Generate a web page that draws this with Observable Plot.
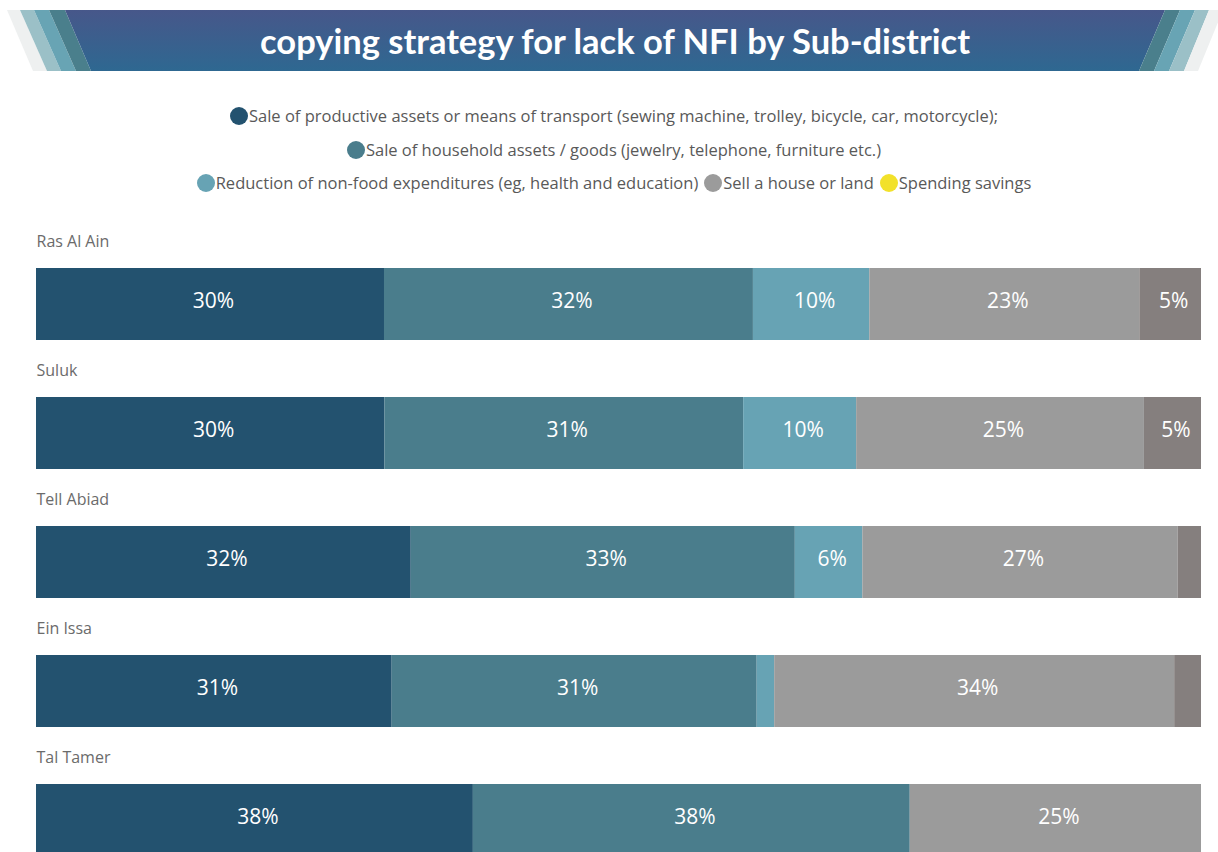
<!DOCTYPE html>
<html>
<head>
<meta charset="utf-8">
<script src="https://cdn.jsdelivr.net/npm/d3@7"></script>
<script src="https://cdn.jsdelivr.net/npm/@observablehq/plot@0.6"></script>
<style>
  html, body { margin: 0; padding: 0; background: #fff; overflow: hidden; width: 1218px; height: 852px; }
  #banner { position: absolute; left: 0; top: 0; }
  #legend { position: absolute; left: 10px; top: 101px; width: 1208px; font-family: "Open Sans", sans-serif; font-size: 16.5px; color: #595959; text-align: center; }
  #legend .row { height: 33.5px; line-height: 30px; white-space: nowrap; }
  #legend .item { display: inline-flex; align-items: center; margin: 0 3px; }
  #legend .dot { display: inline-block; width: 18px; height: 18px; border-radius: 50%; margin-right: 1px; }
  #chart { position: absolute; left: 0; top: 200px; }
</style>
</head>
<body>
<svg id="banner" width="1218" height="80"></svg>
<div id="legend"></div>
<div id="chart"></div>
<script>
const titleText = "copying strategy for lack of NFI by Sub-district";
const sites = ["Ras Al Ain", "Suluk", "Tell Abiad", "Ein Issa", "Tal Tamer"];
const strategies = [
  "Sale of productive assets or means of transport (sewing machine, trolley, bicycle, car, motorcycle);",
  "Sale of household assets / goods (jewelry, telephone, furniture etc.)",
  "Reduction of non-food expenditures (eg, health and education)",
  "Sell a house or land",
  "Spending savings"
];
const productive = [29.9, 29.9, 32.2, 30.5, 37.5];
const household  = [31.7, 30.8, 33.0, 31.3, 37.5];
const reduction  = [10.0, 9.7, 5.8, 1.5, 0];
const sellHouse  = [23.2, 24.7, 27.1, 34.3, 25.0];
const savings    = [5.3, 4.9, 2.0, 2.3, 0];
const barColors    = ["#23526f", "#4a7d8c", "#67a3b4", "#9b9b9b", "#857f7e"];
const legendColors = ["#23526f", "#4a7d8c", "#67a3b4", "#9b9b9b", "#f2e12a"];
const legendRows = [[0], [1], [2, 3, 4]];

// Banner (decoration)
const banner = document.getElementById("banner");
banner.innerHTML = `
<defs><linearGradient id="bg" x1="0" y1="0" x2="0" y2="1">
<stop offset="0" stop-color="#47578a"/><stop offset="1" stop-color="#2e6891"/></linearGradient></defs>
<polygon points="7,10 20,10 47,71 33,71" fill="#eef0f0"/>
<polygon points="20,10 34,10 61,71 47,71" fill="#9bc0c7"/>
<polygon points="34,10 49,10 76,71 61,71" fill="#68a4b4"/>
<polygon points="49,10 65,10 91,71 76,71" fill="#4a7f8c"/>
<polygon points="65,10 1165,10 1139,71 91,71" fill="url(#bg)"/>
<polygon points="1165,10 1180,10 1154,71 1139,71" fill="#4a7f8c"/>
<polygon points="1180,10 1195,10 1169,71 1154,71" fill="#68a4b4"/>
<polygon points="1195,10 1209,10 1184,71 1169,71" fill="#9bc0c7"/>
<polygon points="1209,10 1223,10 1198,71 1184,71" fill="#eef0f0"/>
<text x="615" y="40" text-anchor="middle" dominant-baseline="central" fill="#fff" font-family="Lato, sans-serif" font-weight="bold" font-size="34.5">${titleText}</text>`;

// Legend
const legend = document.getElementById("legend");
legendRows.forEach(r => {
  const row = document.createElement("div");
  row.className = "row";
  r.forEach(i => {
    const it = document.createElement("span");
    it.className = "item";
    it.innerHTML = `<span class="dot" style="background:${legendColors[i]}"></span>${strategies[i]}`;
    row.appendChild(it);
  });
  legend.appendChild(row);
});

// Data table
const series = [productive, household, reduction, sellHouse, savings];
const data = [];
sites.forEach((s, i) => {
  series.forEach((arr, j) => {
    data.push({site: s, strategy: strategies[j], value: arr[i]});
  });
});

const chart = Plot.plot({
  width: 1218,
  height: 652,
  marginLeft: 36,
  marginRight: 17,
  marginTop: 0,
  marginBottom: 0,
  style: {fontFamily: "Open Sans, sans-serif", overflow: "visible"},
  x: {axis: null},
  y: {axis: null, domain: sites, range: [68, 656], paddingInner: 0.442, paddingOuter: 0},
  color: {domain: strategies, range: barColors},
  marks: [
    Plot.barX(data, Plot.stackX({x: "value", y: "site", fill: "strategy", offset: "normalize"})),
    Plot.text(data, Plot.stackX({
      x: "value", y: "site", z: "strategy", offset: "normalize",
      text: d => d.value >= 4 ? Math.round(d.value) + "%" : "",
      fill: "white", fontSize: 21, dx: 3, dy: -3
    })),
    Plot.text(sites, {y: d => d, text: d => d, frameAnchor: "left", textAnchor: "start", dy: -63, fill: "#6b6b6b", fontSize: 16})
  ]
});
document.getElementById("chart").appendChild(chart);
</script>
</body>
</html>
